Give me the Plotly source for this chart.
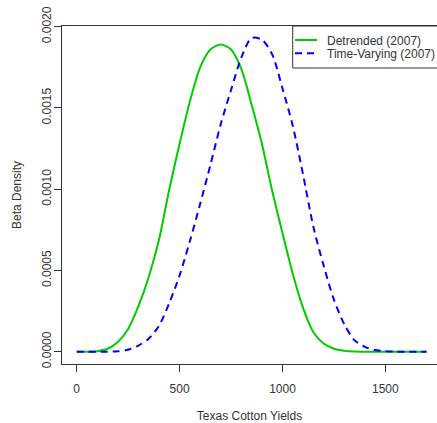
import plotly.graph_objects as go

# yields grid (every 50 units)
yields = [0, 50, 100, 150, 200, 250, 300, 350, 400, 450, 500, 550, 600, 650,
          700, 750, 800, 850, 900, 950, 1000, 1050, 1100, 1150, 1200, 1250,
          1300, 1350, 1400, 1450, 1500, 1550, 1600, 1650, 1700]

detrended = [0, 0, 0.000003, 0.000018, 0.00006, 0.00014, 0.00028, 0.00046,
             0.00069, 0.00100, 0.00128, 0.00154, 0.00175, 0.00186, 0.00189,
             0.00186, 0.00174, 0.00152, 0.00128, 0.00099, 0.00073, 0.00048,
             0.00027, 0.00012, 0.00005, 0.000018, 0.000006, 0.000001, 0, 0,
             0, 0, 0, 0, 0]

time_varying = [0, 0, 0, 0, 0.000002, 0.000012, 0.000038, 0.00008, 0.00016,
                0.00030, 0.00047, 0.00068, 0.00091, 0.00115, 0.00140, 0.00161,
                0.00181, 0.00193, 0.00192, 0.00183, 0.00162, 0.00139, 0.00109,
                0.00077, 0.00053, 0.00032, 0.00017, 0.00007, 0.00003, 0.00001,
                0.000003, 0, 0, 0, 0]

series_names = ["Detrended (2007)", "Time-Varying (2007)"]
x_ticks = [0, 500, 1000, 1500]
y_ticks = [0, 0.0005, 0.0010, 0.0015, 0.0020]

FONT = "Liberation Sans, Arial, sans-serif"
TXT = "#333333"
GREEN = "#00CD00"
BLUE = "#0000FF"

fig = go.Figure()
fig.add_trace(go.Scatter(x=yields, y=detrended, mode="lines", name=series_names[0],
                         line=dict(color=GREEN, width=2, shape="spline", smoothing=0.8)))
fig.add_trace(go.Scatter(x=yields, y=time_varying, mode="lines", name=series_names[1],
                         line=dict(color=BLUE, width=2, dash="7px,5px",
                                   shape="spline", smoothing=0.8)))

axis_common = dict(showline=True, linecolor="#333333", linewidth=1,
                   ticks="outside", ticklen=7, tickcolor="#333333",
                   showgrid=False, zeroline=False, automargin=False,
                   tickfont=dict(family=FONT, size=12, color=TXT))

fig.update_xaxes(range=[-71.5, 1751], tickvals=x_ticks, mirror=True,
                 ticklabelstandoff=7,
                 title=dict(text="Texas Cotton Yields", standoff=16,
                            font=dict(family=FONT, size=12, color=TXT)),
                 **axis_common)
fig.update_yaxes(range=[-0.0000757, 0.0020043], tickvals=y_ticks,
                 tickformat=".4f", tickangle=-90, ticklabelstandoff=-2,
                 title=dict(text="Beta Density", standoff=16,
                            font=dict(family=FONT, size=12, color=TXT)),
                 **axis_common)

# legend box, drawn by hand to match the R legend
shapes = [
    dict(type="rect", xref="paper", yref="paper", x0=0.6152, x1=1.02,
         y0=0.8757, y1=1.0, line=dict(color="#333333", width=1),
         fillcolor="white", layer="above"),
    dict(type="line", xref="paper", yref="paper", x0=0.6213, x1=0.68,
         y0=0.9586, y1=0.9586, line=dict(color=GREEN, width=2)),
    dict(type="line", xref="paper", yref="paper", x0=0.6213, x1=0.68,
         y0=0.9192, y1=0.9192, line=dict(color=BLUE, width=2, dash="7px,5px")),
]
annotations = [
    dict(text=series_names[0], xref="paper", yref="paper", x=0.7013, y=0.9560,
         xanchor="left", yanchor="middle", showarrow=False,
         font=dict(family=FONT, size=12, color=TXT)),
    dict(text=series_names[1], xref="paper", yref="paper", x=0.7013, y=0.9166,
         xanchor="left", yanchor="middle", showarrow=False,
         font=dict(family=FONT, size=12, color=TXT)),
]

fig.update_layout(width=437, height=423, showlegend=False,
                  margin=dict(l=62, r=0, t=26, b=59),
                  paper_bgcolor="white", plot_bgcolor="white",
                  shapes=shapes, annotations=annotations)

# page body has an 8px margin by default; drop it so the figure sits at 0,0
fig.write_html("out.html", config={"displayModeBar": False},
               post_script="document.body.style.margin='0';")
